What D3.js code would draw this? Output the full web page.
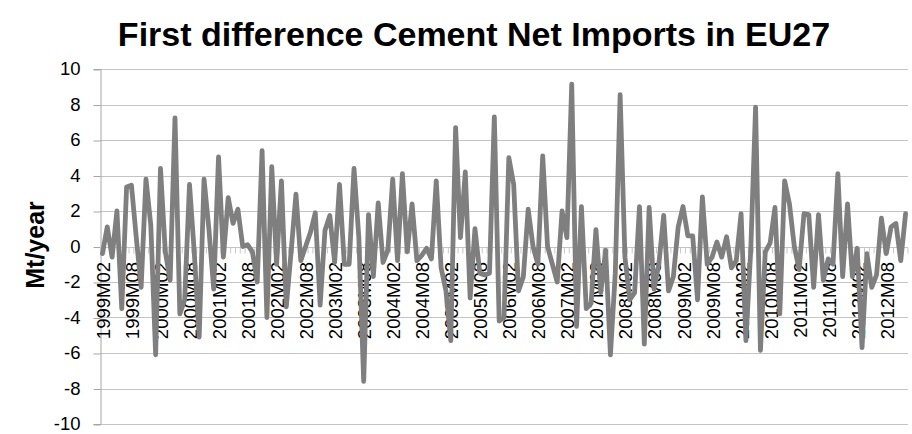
<!DOCTYPE html>
<html>
<head>
<meta charset="utf-8">
<script src="https://cdn.jsdelivr.net/npm/d3@7"></script>
<style>
  body { margin: 0; background: #fff; }
  text { font-family: 'Liberation Sans', Arial, sans-serif; fill: #000; }
</style>
</head>
<body>
<div id="chart"></div>
<script>
// DATA (monthly first differences, Mt/year)

const v1999 = [-0.4, 1.1, -0.6, 2.0, -3.5, 3.35, 3.45, 0.5, -2.3, 3.8, 1.2];
const v2000 = [-6.1, 4.4, -0.3, -1.9, 7.25, -3.8, -3.0, 3.5, -0.4, -5.1, 3.8, 1.0];
const v2001 = [-2.4, 5.05, -0.6, 2.75, 1.3, 2.1, 0.0, 0.1, -0.3, -2.0, 5.4, -4.0];
const v2002 = [4.5, -1.0, 3.7, -3.4, -0.3, 2.95, -0.8, 0.0, 0.8, 1.9, -3.3, 0.9];
const v2003 = [1.75, -0.9, 3.5, -1.0, -1.0, 4.4, 0.5, -7.6, 1.8, -1.7, 2.45, -0.9];
const v2004 = [-0.2, 3.8, -0.8, 4.1, -0.3, 2.4, -0.8, -0.5, -0.1, -0.7, 3.7, -1.2];
const v2005 = [-2.5, -5.3, 6.7, 0.5, 4.2, -2.9, 1.0, -1.5, -1.6, -1.5, 7.3, -4.2];
const v2006 = [-4.0, 5.0, 3.5, -2.5, -1.7, 2.1, 0.0, -1.0, 5.1, 0.0, -1.0, -2.0];
const v2007 = [2.0, 0.5, 9.15, -4.5, 2.25, -3.5, -3.2, 0.95, -2.6, -0.2, -6.1, -1.5];
const v2008 = [8.55, -0.6, -3.0, -2.6, 2.25, -5.5, 2.2, -2.4, -1.0, 1.75, -2.5, -1.7];
const v2009 = [1.1, 2.25, 0.6, 0.6, -3.0, 2.8, -1.0, -0.6, 0.25, -0.6, 0.55, -1.2];
const v2010 = [-0.8, 1.85, -5.3, -0.2, 7.85, -5.85, -0.3, 0.2, 2.2, -3.8, 3.7, 2.4];
const v2011 = [0.0, -1.3, 1.85, 1.8, -2.3, 1.8, -1.9, -0.7, -1.0, 4.1, -1.7, 2.4];
const v2012 = [-1.7, -0.1, -5.7, -0.4, -2.3, -1.6, 1.6, -0.4, 1.1, 1.3, -0.8, 1.85];

const years = [1999, 2000, 2001, 2002, 2003, 2004, 2005, 2006, 2007, 2008, 2009, 2010, 2011, 2012];
const yearValues = [v1999, v2000, v2001, v2002, v2003, v2004, v2005, v2006, v2007, v2008, v2009, v2010, v2011, v2012];

const tickLabels = ['1999M02', '1999M08', '2000M02', '2000M08', '2001M02', '2001M08', '2002M02', '2002M08',
    '2003M02', '2003M08', '2004M02', '2004M08', '2005M02', '2005M08', '2006M02', '2006M08',
    '2007M02', '2007M08', '2008M02', '2008M08', '2009M02', '2009M08', '2010M02', '2010M08',
    '2011M02', '2011M08', '2012M02', '2012M08'];
const yTicks = [10, 8, 6, 4, 2, 0, -2, -4, -6, -8, -10];

const title = 'First difference Cement Net Imports in EU27';
const yTitle = 'Mt/year';

// build month series: 1999 starts in February
const series = [];
years.forEach((yr, k) => {
    const vals = yearValues[k];
    const firstMonth = 12 - vals.length + 1;
    vals.forEach((v, j) => {
        const m = firstMonth + j;
        series.push({ label: `${yr}M${m < 10 ? '0' + m : m}`, value: v });
    });
});

// CONFIG

const width = 912,
    height = 434;

const plot = { left: 100, right: 908, top: 69, bottom: 424 };

const svg = d3.select('#chart')
    .append('svg')
    .attr('width', width)
    .attr('height', height);

const x = d3.scaleBand()
    .domain(series.map(d => d.label))
    .range([plot.left, plot.right])
    .padding(0);

const y = d3.scaleLinear()
    .domain([-10, 10])
    .range([plot.bottom, plot.top]);

// gridlines
svg.append('g')
    .selectAll('line')
    .data(yTicks)
    .enter()
    .append('line')
    .attr('x1', plot.left)
    .attr('x2', plot.right)
    .attr('y1', d => Math.round(y(d)) + 0.5)
    .attr('y2', d => Math.round(y(d)) + 0.5)
    .style('stroke', '#c4c4c4')
    .style('stroke-width', 1.2);

// y axis
const y_axis = d3.axisLeft(y)
    .tickValues(yTicks)
    .tickSize(7)
    .tickPadding(13)
    .tickFormat(d => d);

const gy = svg.append('g')
    .attr('transform', `translate(${plot.left + 0.5}, 0)`)
    .call(y_axis);
gy.select('.domain').style('stroke', '#a6a6a6');
gy.selectAll('.tick line')
    .attr('transform', 'translate(0, 0.5)')
    .style('stroke', '#a6a6a6');
gy.selectAll('.tick text')
    .style('font-size', '18.5px');

// x axis at zero, a tick at each month boundary
const zeroY = Math.round(y(0)) + 0.5;
svg.append('line')
    .attr('x1', plot.left)
    .attr('x2', plot.right)
    .attr('y1', zeroY)
    .attr('y2', zeroY)
    .style('stroke', '#c4c4c4')
    .style('stroke-width', 1.2);

svg.append('g')
    .selectAll('line')
    .data(series)
    .enter()
    .append('line')
    .attr('x1', d => x(d.label) + x.bandwidth())
    .attr('x2', d => x(d.label) + x.bandwidth())
    .attr('y1', zeroY)
    .attr('y2', zeroY + 6)
    .style('stroke', '#c8c8c8')
    .style('stroke-width', 1);

svg.append('g')
    .selectAll('text')
    .data(tickLabels)
    .enter()
    .append('text')
    .attr('transform', d => `translate(${x(d) + x.bandwidth() / 2 + 1}, 262) rotate(-90)`)
    .attr('dy', '0.35em')
    .style('text-anchor', 'end')
    .style('font-size', '18.5px')
    .text(d => d);

// line
const line = d3.line()
    .x(d => x(d.label) + x.bandwidth() / 2)
    .y(d => y(d.value));

svg.append('path')
    .datum(series)
    .attr('d', line)
    .style('fill', 'none')
    .style('stroke', '#7f7f7f')
    .style('stroke-width', 4.8)
    .style('stroke-linejoin', 'round')
    .style('stroke-linecap', 'round');

// titles
svg.append('text')
    .attr('x', 474)
    .attr('y', 46)
    .style('text-anchor', 'middle')
    .style('font-size', '34px')
    .style('font-weight', 'bold')
    .text(title);

svg.append('text')
    .attr('transform', 'translate(35, 245) rotate(-90)')
    .attr('dy', '0.35em')
    .style('text-anchor', 'middle')
    .style('font-size', '25px')
    .style('font-weight', 'bold')
    .text(yTitle);
</script>
</body>
</html>
